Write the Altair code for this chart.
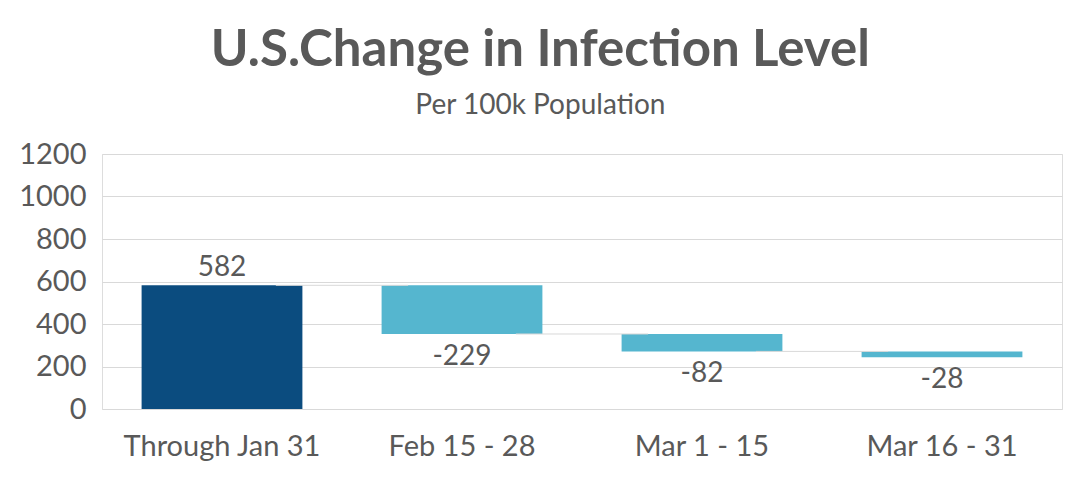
import altair as alt
import pandas as pd

categories = ["Through Jan 31", "Feb 15 - 28", "Mar 1 - 15", "Mar 16 - 31"]
changes = [582, -229, -82, -28]

# Running totals for the waterfall segments
starts, ends = [], []
level = 0
for i, c in enumerate(changes):
    s = 0 if i == 0 else level
    level = level + c
    starts.append(s)
    ends.append(level)

df = pd.DataFrame({
    "cat": categories,
    "start": starts,
    "end": ends,
    "change": changes,
    "kind": ["total"] + ["delta"] * (len(changes) - 1),
})
df["label"] = df["change"].astype(str)

conn = pd.DataFrame({
    "cat": categories[:-1],
    "cat2": categories[1:],
    "level": ends[:-1],
})

FONT = "Lato"
GREY = "#595959"

xscale = alt.Scale(domain=categories, paddingInner=0.33, paddingOuter=0.165)
x = alt.X("cat:N", scale=xscale, sort=categories, title=None,
          axis=alt.Axis(labelAngle=0, ticks=False, domain=False,
                        labelFontSize=29, labelColor=GREY, labelFont=FONT,
                        labelPadding=23, labelLimit=400))
yscale = alt.Scale(domain=[0, 1200], nice=False)

bars = alt.Chart(df).mark_bar().encode(
    x=x,
    y=alt.Y("start:Q", scale=yscale, title=None,
            axis=alt.Axis(values=[0, 200, 400, 600, 800, 1000, 1200],
                          format="d",
                          ticks=False, domain=False, gridColor="#D9D9D9",
                          gridWidth=1.2, labelFontSize=29, labelColor=GREY,
                          labelFont=FONT, labelPadding=16)),
    y2="end:Q",
    color=alt.Color("kind:N", legend=None,
                    scale=alt.Scale(domain=["total", "delta"],
                                    range=["#0B4C7F", "#55B6CF"])),
)

connectors = alt.Chart(conn).mark_rule(color="#D9D9D9", strokeWidth=1).encode(
    x=alt.X("cat:N", scale=xscale, sort=categories, bandPosition=0.835),
    x2=alt.X2("cat2:N", bandPosition=0.165),
    y=alt.Y("level:Q", scale=yscale),
)

pos_labels = alt.Chart(df[df["change"] > 0]).mark_text(
    baseline="bottom", dy=-3, fontSize=28, color=GREY, font=FONT
).encode(x=alt.X("cat:N", scale=xscale, sort=categories),
         y=alt.Y("end:Q", scale=yscale), text="label:N")

neg_labels = alt.Chart(df[df["change"] < 0]).mark_text(
    baseline="top", dy=9, fontSize=28, color=GREY, font=FONT
).encode(x=alt.X("cat:N", scale=xscale, sort=categories),
         y=alt.Y("end:Q", scale=yscale), text="label:N")

chart = alt.layer(bars, connectors, pos_labels, neg_labels).properties(
    width=960,
    height=255,
    autosize=alt.AutoSizeParams(type="none"),
    padding={"left": 102, "top": 154, "right": 10, "bottom": 69},
    title=alt.TitleParams(
        text="U.S.Change in Infection Level",
        subtitle="Per 100k Population",
        anchor="middle", frame="bounds",
        font=FONT, fontSize=51, fontWeight="bold", color=GREY,
        subtitleFont=FONT, subtitleFontSize=28, subtitleColor=GREY,
        subtitlePadding=15, offset=19,
    ),
).configure_view(stroke=None).configure(background="white")

chart.save("out.html", embed_options={"renderer": "svg", "actions": False})
